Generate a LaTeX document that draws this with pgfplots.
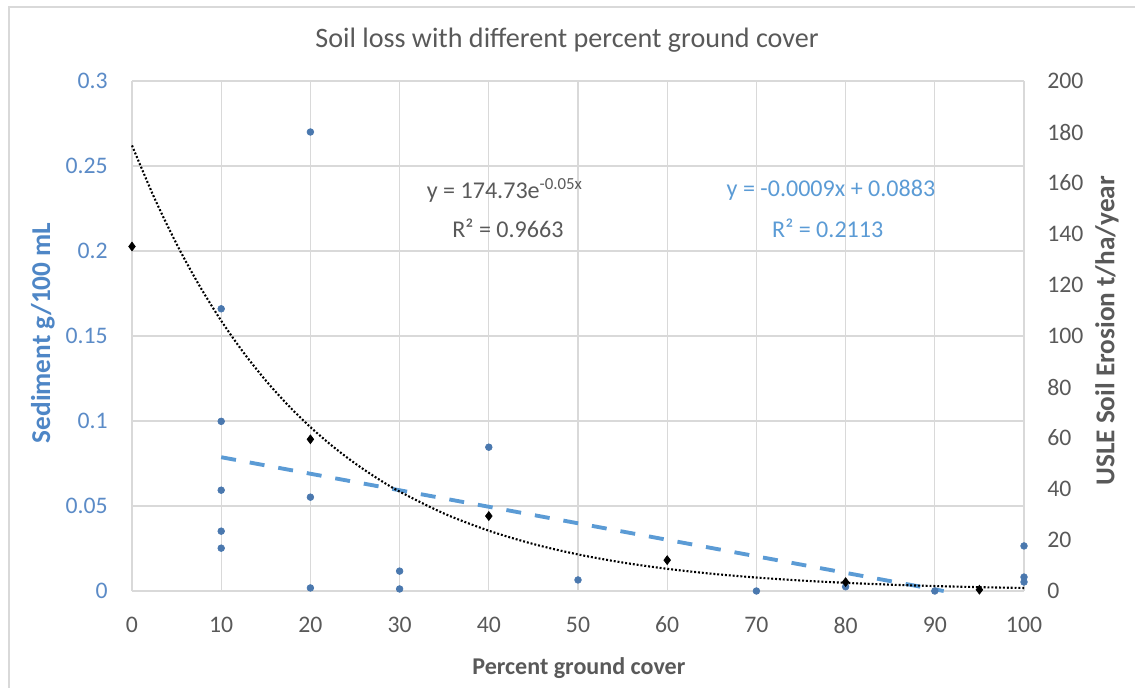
\documentclass[border=0pt]{standalone}
\usepackage{fontspec}
\setmainfont{Carlito}
\usepackage{pgfplots}
\pgfplotsset{compat=1.18}
\definecolor{txtgray}{HTML}{595959}
\definecolor{gridgray}{HTML}{D9D9D9}
\definecolor{dotblue}{HTML}{4A78AE}
\definecolor{lineblue}{HTML}{5B9BD5}
\definecolor{labblue}{HTML}{4E86C6}
\definecolor{tickblue}{HTML}{5B8BC7}

\pgfplotstableread{
x y
10 0.166
10 0.0998
10 0.0593
10 0.0352
10 0.0252
20 0.270
20 0.0552
20 0.0018
30 0.0117
30 0.0012
40 0.0846
50 0.0065
70 0.0
80 0.0025
90 0.0
100 0.0265
100 0.0082
100 0.0053
}\sediment

\pgfplotstableread{
x y
0 135.1
20 59.5
40 29.4
60 12.1
80 3.5
95 0.5
}\usle

\pgfplotstableread{
x y
0 174.73
2.5 154.20
5 136.08
7.5 120.09
10 105.98
12.5 93.53
15 82.54
17.5 72.84
20 64.28
22.5 56.73
25 50.06
27.5 44.18
30 38.99
35 30.36
40 23.65
45 18.42
50 14.34
55 11.17
60 8.70
65 6.77
70 5.28
75 4.11
80 3.20
85 2.49
90 1.94
95 1.51
100 1.18
}\expfit

\begin{document}
\begin{tikzpicture}
\useasboundingbox (-2.64cm,-1.92cm) rectangle (20.06cm,11.82cm);
\draw[gridgray, line width=0.8pt] (-2.46cm,-2.2cm) -- (-2.46cm,11.68cm) -- (20.3cm,11.68cm);
\begin{axis}[
  at={(0,0)}, anchor=south west,
  width=17.84cm, height=10.2cm, scale only axis,
  xmin=0, xmax=100, ymin=0, ymax=0.3,
  xtick={0,10,20,30,40,50,60,70,80,90,100},
  ytick={0,0.05,0.1,0.15,0.2,0.25,0.3},
  yticklabels={0,0.05,0.1,0.15,0.2,0.25,0.3},
  xmajorgrids, ymajorgrids,
  grid style={gridgray, line width=0.6pt},
  axis line style={draw=none},
  major tick length=0pt,
  /pgf/number format/assume math mode=true,
  tick label style={font=\fontsize{13.5}{15}\selectfont},
  xticklabel style={txtgray, anchor=center, yshift=-0.68cm, inner sep=0pt},
  yticklabel style={tickblue, anchor=east, xshift=-0.48cm, inner sep=0pt},
  xlabel={Percent ground cover},
  xlabel style={at={(axis description cs:0.501,-0.151)}, anchor=center,
    font=\bfseries\fontsize{13.7}{16}\selectfont, txtgray},
  ylabel={Sediment g/100 mL},
  ylabel style={at={(axis description cs:-0.0998,0.506)}, anchor=center,
    font=\bfseries\fontsize{15.5}{18}\selectfont, labblue},
  title={Soil loss with different percent ground cover},
  title style={at={(axis description cs:0.4877,1.059)}, anchor=center, yshift=0pt,
    font=\fontsize{16}{19}\selectfont, txtgray},
  clip=false,
]
\addplot[only marks, mark=*, mark size=1.9pt, draw=dotblue, fill=dotblue] table[x=x,y=y] {\sediment};
\addplot[lineblue, line width=2.2pt, dash pattern=on 0.3cm off 0.28cm] coordinates {(10,0.0787) (91,0)};
\node[txtgray, font=\fontsize{13.7}{16}\selectfont] at (axis description cs:0.418,0.786) {y = 174.73e\textsuperscript{-0.05x}};
\node[txtgray, font=\fontsize{13.7}{16}\selectfont] at (axis description cs:0.4215,0.712) {R² = 0.9663};
\node[lineblue, font=\fontsize{13.7}{16}\selectfont] at (axis description cs:0.7836,0.786) {y = -0.0009x + 0.0883};
\node[lineblue, font=\fontsize{13.7}{16}\selectfont] at (axis description cs:0.780,0.712) {R² = 0.2113};
\end{axis}
\begin{axis}[
  at={(0,0)}, anchor=south west,
  width=17.84cm, height=10.2cm, scale only axis,
  xmin=0, xmax=100, ymin=0, ymax=200,
  axis x line=none, axis y line*=right,
  axis line style={draw=none},
  major tick length=0pt,
  ytick={0,20,40,60,80,100,120,140,160,180,200},
  /pgf/number format/assume math mode=true,
  yticklabel style={txtgray, anchor=west, xshift=0.46cm, inner sep=0pt, font=\fontsize{13.5}{15}\selectfont},
  ylabel={USLE Soil Erosion t/ha/year},
  ylabel style={at={(axis description cs:1.093,0.51)}, anchor=center,
    font=\bfseries\fontsize{15.5}{18}\selectfont, txtgray},
  clip=false,
]
\addplot[black, line width=1.2pt, dash pattern=on 1.1pt off 1.1pt, smooth] table[x=x,y=y] {\expfit};
\addplot[only marks, mark=diamond*, mark size=2.5pt, draw=black, fill=black] table[x=x,y=y] {\usle};
\end{axis}
\end{tikzpicture}
\end{document}
